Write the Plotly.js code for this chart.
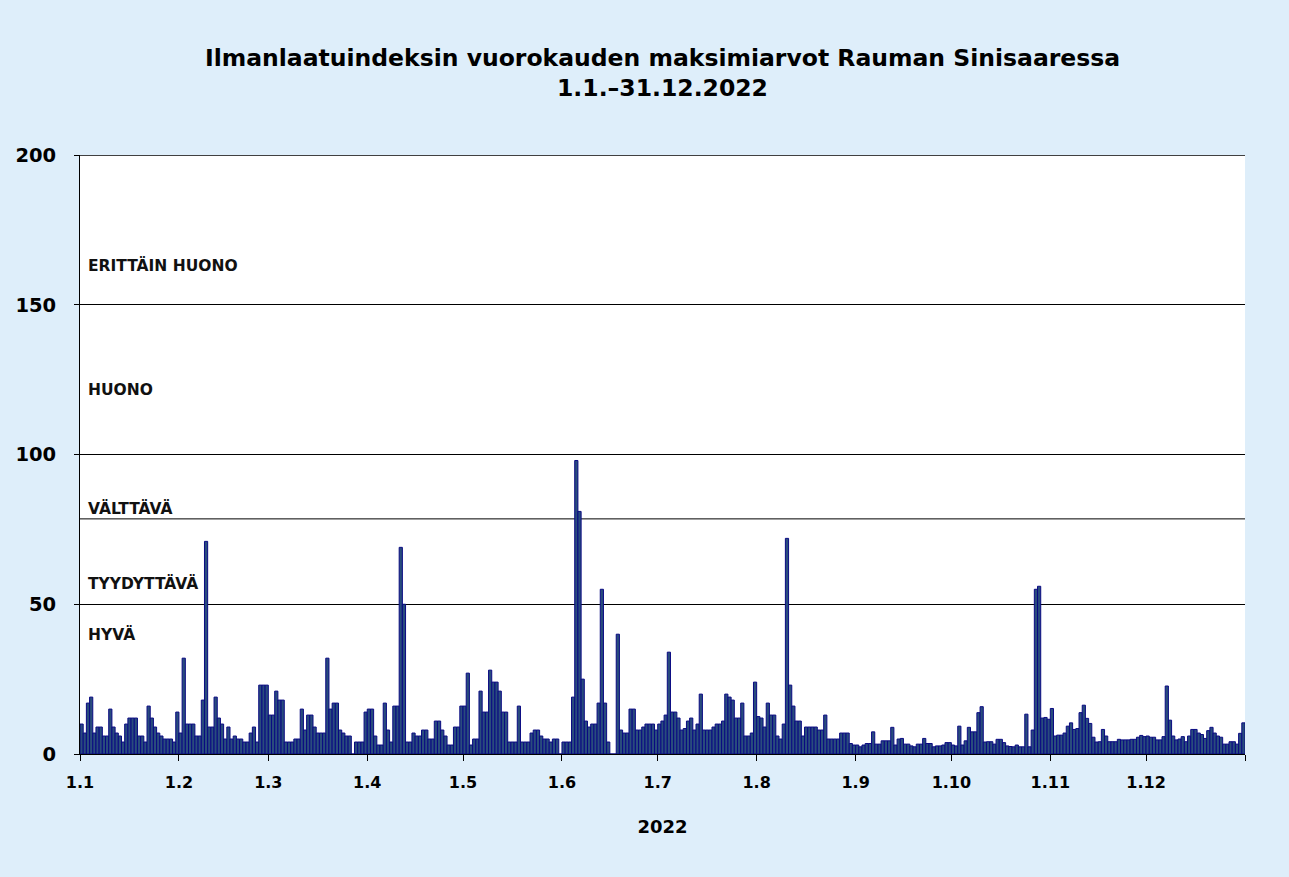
<!DOCTYPE html>
<html>
<head>
<meta charset="utf-8">
<script src="https://cdn.plot.ly/plotly-3.0.1.min.js"></script>
<style>html,body{margin:0;padding:0;background:#deeefa;}#chart{width:1289px;height:877px;}</style>
</head>
<body>
<div id="chart"></div>
<script>
// Daily maximum air quality index values (one array per month)
const jan = [10, 7, 17, 19, 7, 9, 9, 6, 6, 15, 9, 7, 6, 4, 10, 12, 12, 12, 6, 6, 4, 16, 12, 9, 7, 6, 5, 5, 5, 4, 14];
const feb = [7, 32, 10, 10, 10, 6, 6, 18, 71, 9, 9, 19, 12, 10, 5, 9, 5, 6, 5, 5, 4, 4, 7, 9, 4, 23, 23, 23];
const mar = [13, 13, 21, 18, 18, 4, 4, 4, 5, 5, 15, 8, 13, 13, 9, 7, 7, 7, 32, 15, 17, 17, 8, 7, 6, 6, 0, 4, 4, 4, 14];
const apr = [15, 15, 6, 3, 3, 17, 8, 4, 16, 16, 69, 50, 4, 4, 7, 6, 6, 8, 8, 5, 5, 11, 11, 8, 6, 3, 3, 9, 9, 16];
const may = [16, 27, 3, 5, 5, 21, 14, 14, 28, 24, 24, 21, 14, 14, 4, 4, 4, 16, 4, 4, 4, 7, 8, 8, 6, 5, 5, 4, 5, 5, 0];
const jun = [4, 4, 4, 19, 98, 81, 25, 11, 9, 10, 10, 17, 55, 17, 4, 0, 0, 40, 8, 7, 7, 15, 15, 8, 8, 9, 10, 10, 10, 8];
const jul = [10, 11, 13, 34, 14, 14, 12, 8, 8.5, 11, 12, 8, 10, 20, 8, 8, 8, 9, 10, 10, 11, 20, 19, 18, 12, 12, 17, 6, 6, 7, 24];
const aug = [12.5, 12, 9, 17, 13, 13, 6, 5, 10, 72, 23, 16, 11, 11, 6, 9, 9, 9, 9, 8, 8, 13, 5, 5, 5, 5, 7, 7, 7, 3.5, 3];
const sep = [3, 2.4, 3, 3.5, 3.5, 7.4, 3.3, 3.3, 4.4, 4.4, 4.4, 8.9, 3, 5, 5.2, 3.3, 3.3, 2.7, 2.4, 3.3, 3.3, 5.2, 3.5, 3.5, 2.4, 2.7, 2.7, 3, 3.8, 3.8];
const oct = [3, 2.7, 9.3, 3, 4.4, 8.9, 7.4, 7.4, 13.8, 15.8, 4, 4.1, 4.1, 3.3, 4.9, 4.9, 3.8, 2.7, 2.5, 2.4, 3, 2.4, 2.4, 13.3, 2.4, 8, 55, 56, 12, 12.2, 11.6];
const nov = [15.2, 6, 6.3, 6.3, 7, 9.3, 10.4, 8.2, 8.5, 13.8, 16.3, 11.9, 10.2, 5.6, 4, 4.1, 8.2, 6, 4.1, 4.1, 4.1, 4.9, 4.7, 4.7, 4.7, 4.9, 4.9, 5.6, 6.2, 5.8];
const dec = [6, 5.6, 5.6, 4.7, 4.7, 5.8, 22.7, 11.3, 6, 4.7, 5, 5.8, 4.1, 6, 8.2, 8.2, 7, 6.5, 5.2, 7.8, 8.9, 7, 6, 5.6, 3.3, 3.3, 4.1, 4.1, 3.3, 6.9, 10.4];

const monthTickLabels = ["1.1", "1.2", "1.3", "1.4", "1.5", "1.6", "1.7", "1.8", "1.9", "1.10", "1.11", "1.12"];
const bandLabels = ["ERITTÄIN HUONO", "HUONO", "VÄLTTÄVÄ", "TYYDYTTÄVÄ", "HYVÄ"];
const bandLabelLevels = [163, 121.5, 82, 57, 40];
const bandLine = 78.5;

const months = [jan, feb, mar, apr, may, jun, jul, aug, sep, oct, nov, dec];
const values = [];
const xs = [];
const monthStarts = [];
let d = 0;
months.forEach(m => {
  monthStarts.push(d);
  m.forEach(v => { values.push(v); xs.push(d + 0.5); d++; });
});
const totalDays = d;

const font = "DejaVu Sans, Liberation Sans, Arial, sans-serif";

const trace = {
  type: 'bar',
  x: xs,
  y: values,
  width: 1,
  marker: { color: '#294c7d', line: { color: '#0a0a82', width: 1 } },
  hoverinfo: 'x+y'
};

const annotations = bandLabels.map((t, i) => ({
  text: t, xref: 'paper', x: 0, xanchor: 'left', xshift: 6,
  yref: 'y', y: bandLabelLevels[i], yanchor: 'middle', showarrow: false,
  font: { family: font, size: 15.5, color: '#111', weight: 'bold' }
}));

const layout = {
  width: 1289, height: 877,
  paper_bgcolor: '#deeefa',
  plot_bgcolor: '#ffffff',
  margin: { l: 80, r: 44, t: 155, b: 123 },
  showlegend: false,
  bargap: 0,
  title: {
    text: 'Ilmanlaatuindeksin vuorokauden maksimiarvot Rauman Sinisaaressa<br>1.1.–31.12.2022',
    x: 0.5, xref: 'paper', xanchor: 'center',
    y: 0.925, yref: 'container', yanchor: 'top',
    font: { family: font, size: 23.5, color: '#000', weight: 'bold' }
  },
  xaxis: {
    range: [0, totalDays],
    tickmode: 'array',
    tickvals: monthStarts.concat([totalDays]),
    ticktext: monthTickLabels.concat(['']),
    ticks: 'outside', ticklen: 6, tickcolor: '#000', tickwidth: 1,
    showline: true, linecolor: '#000', linewidth: 1,
    showgrid: false, zeroline: false,
    ticklabelstandoff: 8,
    tickfont: { family: font, size: 16, color: '#000', weight: 'bold' },
    title: { text: '2022', standoff: 29, font: { family: font, size: 18, color: '#000', weight: 'bold' } }
  },
  yaxis: {
    range: [0, 200],
    tickmode: 'linear', tick0: 0, dtick: 50,
    ticks: 'outside', ticklen: 5, tickcolor: '#000',
    showline: true, linecolor: '#000', linewidth: 1,
    showgrid: true, gridcolor: '#000', gridwidth: 1,
    zeroline: false,
    ticklabelstandoff: 14,
    tickfont: { family: font, size: 19.5, color: '#000', weight: 'bold' }
  },
  shapes: [
    { type: 'line', xref: 'paper', x0: 0, x1: 1, yref: 'y', y0: bandLine, y1: bandLine, line: { color: '#000', width: 1 }, layer: 'below' },
    { type: 'line', xref: 'paper', x0: 0, x1: 1, yref: 'y', y0: 200, y1: 200, line: { color: '#000', width: 1.5 }, layer: 'above' }
  ],
  annotations: annotations
};

Plotly.newPlot('chart', [trace], layout, { displayModeBar: false, staticPlot: true });
</script>
</body>
</html>
